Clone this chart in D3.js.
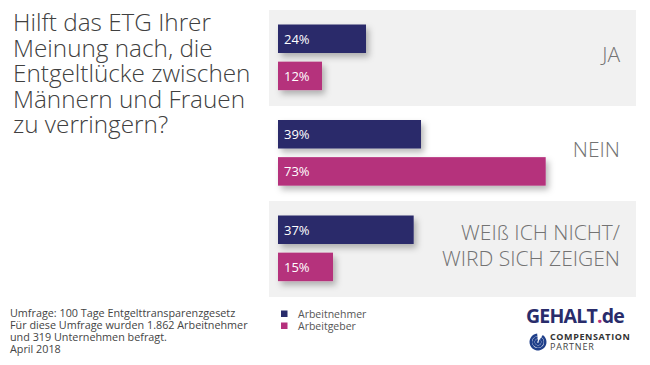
<!DOCTYPE html>
<html><head><meta charset="utf-8">
<script src="https://cdn.jsdelivr.net/npm/d3@7"></script>
<style>body{margin:0;background:#fff}svg{display:block;font-family:"Open Sans",sans-serif}</style>
</head><body>
<svg id="c" width="650" height="365"></svg>
<script>
const categories = ["JA", "NEIN", "WEIß ICH NICHT/\nWIRD SICH ZEIGEN"];
const seriesNames = ["Arbeitnehmer", "Arbeitgeber"];
const arbeitnehmer = [24, 39, 37];
const arbeitgeber = [12, 73, 15];
const titleLines = ["Hilft das ETG Ihrer", "Meinung nach, die", "Entgeltlücke zwischen", "Männern und Frauen", "zu verringern?"];
const footnote = ["Umfrage: 100 Tage Entgelttransparenzgesetz", "Für diese Umfrage wurden 1.862 Arbeitnehmer", "und 319 Unternehmen befragt.", "April 2018"];
const colors = ["#292c6b", "#b5307c"];

const svg = d3.select("#c");
const defs = svg.append("defs");
const f = defs.append("filter").attr("id","sh").attr("x","-20%").attr("y","-50%").attr("width","150%").attr("height","250%");
f.append("feDropShadow").attr("dx",3).attr("dy",4).attr("stdDeviation",3).attr("flood-color","#000").attr("flood-opacity",0.28);

// title
svg.append("text").attr("fill","#404040").attr("font-size",24.3).attr("font-weight",300)
  .selectAll("tspan").data(titleLines).join("tspan")
  .attr("x",13).attr("y",(d,i)=>31+i*25.5).text(d=>d);

const panelX0 = 269, panelX1 = 636;
const y = d3.scaleBand().domain(categories).range([10, 296.5]).paddingInner(0).paddingOuter(0);
const x = d3.scaleLinear().domain([0, 100]).range([278, 278 + 366.7]);
const inner = d3.scaleBand().domain(seriesNames).range([14.5, 79.5]).paddingInner(0.25);

// panels (alternating)
svg.append("g").selectAll("rect").data(categories.filter((d,i)=>i%2===0)).join("rect")
  .attr("x",panelX0).attr("width",panelX1-panelX0)
  .attr("y",d=>y(d)).attr("height",96).attr("fill","#f1f1f1");

const rows = categories.map((c,i)=>({cat:c, vals:[arbeitnehmer[i], arbeitgeber[i]]}));
const g = svg.append("g").selectAll("g").data(rows).join("g").attr("transform",d=>`translate(0,${y(d.cat)})`);
const bh = 28.5;
g.selectAll("rect").data(d=>d.vals.map((v,j)=>({v,s:seriesNames[j],j}))).join("rect")
  .attr("x",x(0)).attr("y",d=>inner(d.s)).attr("width",d=>x(d.v)-x(0)).attr("height",bh)
  .attr("fill",d=>colors[d.j]).attr("filter","url(#sh)");
g.selectAll("text.v").data(d=>d.vals.map((v,j)=>({v,s:seriesNames[j],j}))).join("text")
  .attr("class","v").attr("x",x(0)+6).attr("y",d=>inner(d.s)+bh/2+5)
  .attr("fill","#fff").attr("font-size",13).text(d=>d.v+"%");

// category labels
g.each(function(d){
  const lines = d.cat.split("\n");
  const c = y.bandwidth()/2;
  const t = d3.select(this).append("text").attr("text-anchor","end").attr("fill","#737373").attr("font-size",21).attr("font-weight",300);
  t.selectAll("tspan").data(lines).join("tspan").attr("x",620)
   .attr("y",(l,k)=>c + 4 - (lines.length-1)*13 + (lines.length>1?0:0) + k*26).text(l=>l);
});

// footnote
svg.append("text").attr("fill","#444").attr("font-size",10.8)
  .selectAll("tspan").data(footnote).join("tspan").attr("x",10).attr("y",(d,i)=>316.5+i*12).text(d=>d);

// legend
const lg = svg.append("g").selectAll("g").data(seriesNames).join("g")
  .attr("transform",(d,i)=>`translate(281,${310.5+i*12})`);
lg.append("rect").attr("width",6.5).attr("height",6.5).attr("fill",(d,i)=>colors[i]);
lg.append("text").attr("x",17).attr("y",7.5).attr("font-size",10.5).attr("fill","#555").text(d=>d);

// logo
const logo = svg.append("g");
const lt = logo.append("text").attr("x",526).attr("y",323).attr("font-size",19.5).attr("font-weight",700).attr("fill","#292c6b").attr("letter-spacing",-0.8);
lt.append("tspan").text("GEHALT");
lt.append("tspan").attr("fill","#b5307c").text(".");
lt.append("tspan").text("de");
const ic = logo.append("g").attr("transform","translate(538,342)");
[7.3,4.6,2].forEach(r=>{
  ic.append("path").attr("d",d3.arc()({innerRadius:r-1.2,outerRadius:r+1.2,startAngle:0.6,endAngle:2*Math.PI-0.1})).attr("fill","#1f3f8a");
});
logo.append("text").attr("x",550).attr("y",339.5).attr("font-size",9).attr("font-weight",700).attr("fill","#333").attr("letter-spacing",0.6).text("COMPENSATION");
logo.append("text").attr("x",550).attr("y",350).attr("font-size",9).attr("fill","#444").attr("letter-spacing",0.8).text("PARTNER");
</script>
</body></html>
